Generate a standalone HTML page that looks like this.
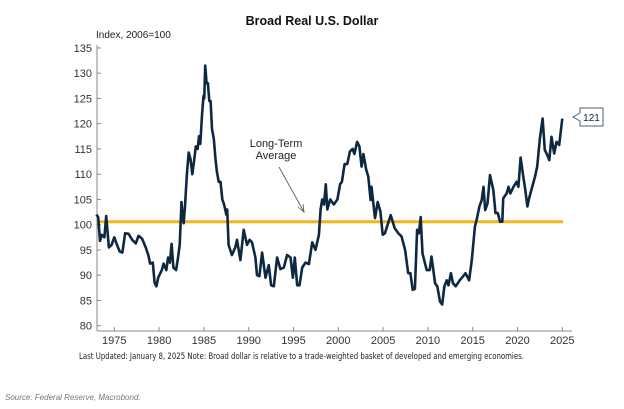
<!DOCTYPE html>
<html><head><meta charset="utf-8"><style>
body{margin:0;background:#fff;}
svg{display:block;font-family:"Liberation Sans",Arial,sans-serif;}
</style></head><body>
<svg id="s" width="624" height="409" viewBox="0 0 624 409" xmlns="http://www.w3.org/2000/svg">
<rect width="624" height="409" fill="#fff"/>
<text x="312" y="25" text-anchor="middle" font-size="12.5" font-weight="bold" fill="#111">Broad Real U.S. Dollar</text>
<text x="96" y="38" font-size="10" fill="#222">Index, 2006=100</text>
<g id="ax" stroke="#888" stroke-width="1" fill="none"></g>
<g id="yl" font-size="11" fill="#333" text-anchor="end"></g>
<g id="xl" font-size="11" fill="#333" text-anchor="middle"></g>
<line x1="97" y1="221.7" x2="563" y2="221.7" stroke="#F2B51C" stroke-width="3"/>
<path id="p" fill="none" stroke="#0E2841" stroke-width="2.6" stroke-linejoin="round"/>
<text x="276" y="147" font-size="11" text-anchor="middle" fill="#222">Long-Term</text>
<text x="276" y="159" font-size="11" text-anchor="middle" fill="#222">Average</text>
<line x1="279" y1="167" x2="304" y2="212" stroke="#555" stroke-width="0.8"/>
<path d="M298,207 L304,212 L303,204" fill="none" stroke="#555" stroke-width="0.8"/>
<path d="M580,108 H603 V126 H580 V121 L573,117 L580,113 Z" fill="#fff" stroke="#4A6178" stroke-width="1"/>
<text x="591.5" y="121" font-size="10" text-anchor="middle" fill="#222">121</text>
<text x="79" y="359" font-size="8.8" fill="#222" font-family="'DejaVu Sans',sans-serif" textLength="445" lengthAdjust="spacingAndGlyphs">Last Updated: January 8, 2025  Note: Broad dollar is relative to a trade-weighted basket of developed and emerging economies.</text>
<text x="5" y="400" font-size="8" font-style="italic" fill="#777">Source: Federal Reserve, Macrobond.</text>
</svg>
<script>
var X=function(y){return 114.3+(y-1975)*8.96},Y=function(v){return 224.7-(v-100)*5.05};
var ns="http://www.w3.org/2000/svg",ax=document.getElementById('ax'),yl=document.getElementById('yl'),xl=document.getElementById('xl');
function el(p,t,a,tx){var e=document.createElementNS(ns,t);for(var k in a)e.setAttribute(k,a[k]);if(tx)e.textContent=tx;p.appendChild(e);}
el(ax,'line',{x1:97,y1:45,x2:97,y2:331});el(ax,'line',{x1:97,y1:331,x2:572,y2:331});
for(var v=80;v<=135;v+=5){var y=Y(v);el(ax,'line',{x1:97,y1:y,x2:101,y2:y});el(yl,'text',{x:92,y:y+4},''+v);}
for(var yr=1975;yr<=2025;yr+=5){var x=X(yr);el(ax,'line',{x1:x,y1:331,x2:x,y2:327});el(xl,'text',{x:x,y:344},''+yr);}
var d=[1973.0,102,1973.2,101.5,1973.4,96.8,1973.6,98,1973.9,97.5,1974.1,101.7,1974.4,95.5,1974.7,96,1975,97.5,1975.3,96,1975.6,94.7,1975.9,94.5,1976.2,98.3,1976.6,98.2,1977,97,1977.4,96.3,1977.7,97.8,1978.1,97.2,1978.5,95.5,1978.8,94,1979,92.3,1979.3,92.5,1979.5,88.5,1979.7,87.8,1979.9,89.5,1980.3,91,1980.5,92.3,1980.8,91,1981.0,93.5,1981.2,92.5,1981.4,96.2,1981.6,91.5,1981.9,91,1982.1,93.3,1982.3,96,1982.5,104.5,1982.6,102,1982.75,100.3,1982.9,104,1983.1,110,1983.3,114.3,1983.5,113,1983.7,110,1983.9,112.5,1984.1,115.5,1984.3,115,1984.45,117.5,1984.6,116,1984.8,122,1984.95,125.5,1985.05,125,1985.15,131.5,1985.3,128,1985.45,128,1985.6,124.5,1985.75,124.5,1985.9,119,1986.1,117,1986.3,113,1986.45,110.5,1986.65,108.5,1986.85,108.5,1987.05,105,1987.25,104,1987.5,102,1987.6,103,1987.76,96,1988.13,94,1988.5,95.5,1988.69,97,1989.07,93,1989.44,99,1989.81,96,1990.1,97,1990.37,96.5,1990.75,93.5,1990.93,90,1991.19,89.8,1991.49,94.5,1991.87,89.5,1992.24,92,1992.5,88,1992.8,87.8,1993.17,93.5,1993.54,91.2,1993.92,91.5,1994.29,94,1994.66,93.5,1994.93,89.5,1995.15,93.5,1995.41,88,1995.67,88,1995.97,91.5,1996.34,92.5,1996.72,92.2,1997.09,96.5,1997.46,95,1997.84,98,1998.02,103,1998.2,105,1998.4,104,1998.6,108,1998.77,103,1999.1,105,1999.5,104,1999.9,105,2000.2,108,2000.4,108.5,2000.7,112,2001.0,112,2001.3,114.5,2001.6,115,2001.8,114,2002.1,116.4,2002.35,115.5,2002.6,111.5,2002.8,114,2003.1,111,2003.35,109.5,2003.6,104.9,2003.7,107.5,2004.1,101.3,2004.4,104.5,2004.7,102.6,2004.95,98,2005.2,98.3,2005.85,101.9,2006.3,99.3,2006.7,98.3,2007.05,97.7,2007.45,95,2007.8,90.4,2008.05,90.4,2008.3,87.1,2008.55,87.3,2008.8,99,2009.0,98.3,2009.2,101.5,2009.4,94.3,2009.87,91,2010.2,91,2010.4,93.7,2010.8,88.4,2011.05,87.8,2011.35,84.8,2011.6,84.2,2011.83,87.7,2012.1,89,2012.3,88,2012.57,90.4,2012.8,88.4,2013.1,87.8,2013.55,89,2013.9,89.7,2014.2,90.4,2014.6,89,2014.9,93,2015.25,99.6,2015.45,101,2015.75,103.6,2016,104.9,2016.2,107.5,2016.4,102.9,2016.65,104.2,2016.93,109.8,2017.3,106.9,2017.55,102.3,2017.8,102.3,2018.05,100.6,2018.3,100.6,2018.4,105.2,2018.8,106.2,2019,107.5,2019.2,106.2,2019.55,107.5,2019.9,108.5,2020.1,107.5,2020.35,113.3,2020.65,109.5,2020.85,107.2,2021.1,103.6,2021.3,105.2,2021.55,106.9,2021.95,109.5,2022.2,111.5,2022.5,117.1,2022.8,121,2023.05,114.8,2023.25,114.1,2023.55,112.8,2023.8,117.4,2024.1,114.1,2024.35,116.4,2024.65,115.8,2024.8,118,2025.0,121];
var s='';for(var i=0;i<d.length;i+=2){s+=(i?'L':'M')+X(d[i]).toFixed(1)+','+Y(d[i+1]).toFixed(1);}
document.getElementById('p').setAttribute('d',s);
</script>
</body></html>
